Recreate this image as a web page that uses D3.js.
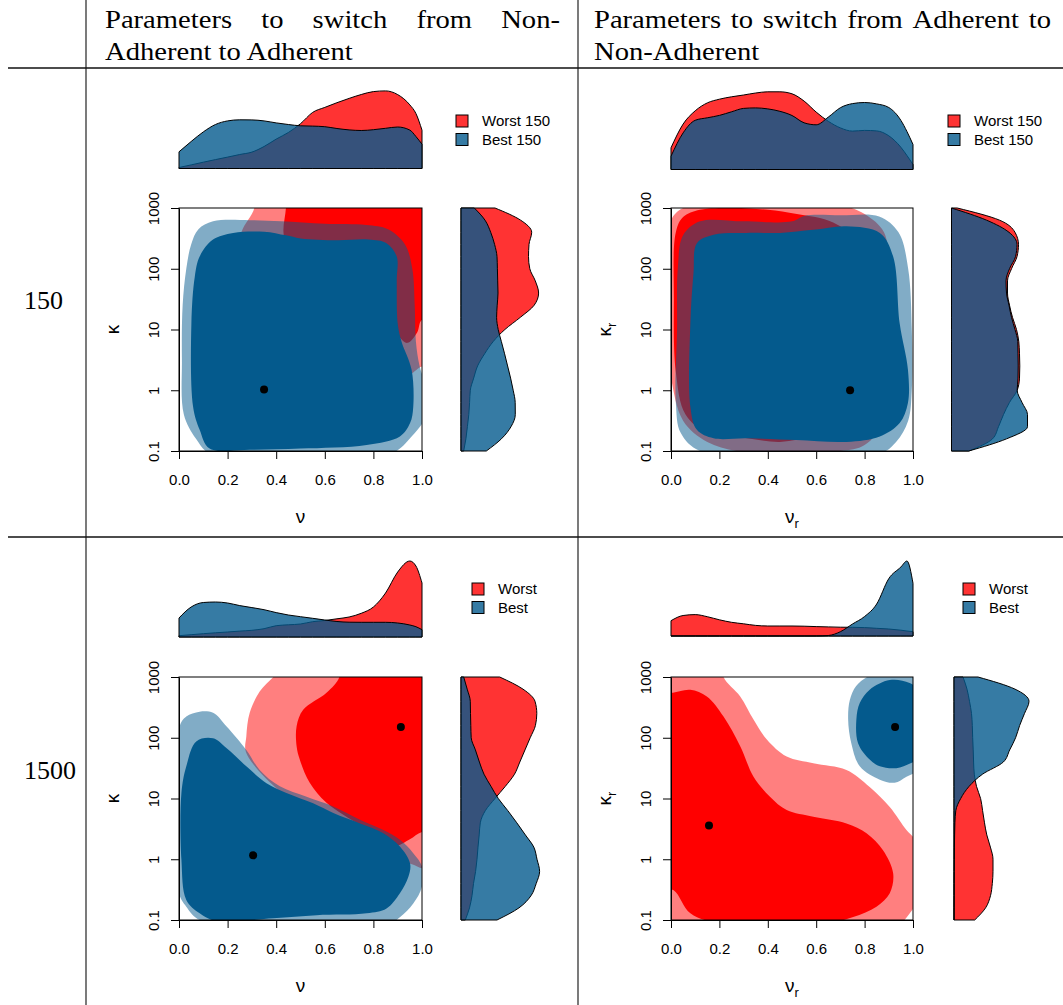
<!DOCTYPE html>
<html><head><meta charset="utf-8">
<script src="https://cdn.jsdelivr.net/npm/d3@7"></script>
<style>body{margin:0;background:#fff}svg{display:block}</style>
</head><body>
<svg id="c" width="1063" height="1005"></svg>
<script>
// ---------------- DATA ----------------
const nuTicks = [0, 0.2, 0.4, 0.6, 0.8, 1.0];
const kappaTicks = [0.1, 1, 10, 100, 1000];
const rowLabels = ["150", "1500"];
const legendTop = ["Worst 150", "Best 150"];
const legendBottom = ["Worst", "Best"];

// grid for top marginal densities (nu)
const nuGrid = [0,0.05,0.1,0.15,0.2,0.25,0.3,0.35,0.4,0.45,0.5,0.55,0.6,0.65,0.7,0.75,0.8,0.85,0.9,0.95,0.975,1];
// grid for right marginal densities (log10 kappa)
const logKGrid = [3,2.8,2.6,2.4,2.2,2.0,1.8,1.6,1.4,1.2,1.0,0.8,0.6,0.4,0.2,0,-0.2,-0.4,-0.6,-0.8,-1];

// marginal densities (relative units)
const tlTopWorst = [1,3.6,6.3,8.9,11.4,14,16.4,22,29.4,36,44.8,56.1,61.1,65.8,70.1,74,76.9,77.6,73.9,63.6,55,38.3];
const tlTopBest  = [16.7,27,36.6,44,47.6,48.7,48.6,47.6,45.6,44,42.7,42.4,41.8,40,38.6,38,38.8,40.2,41.5,38.4,32,24.3];
const tlRightWorst = [34,59.6,70.7,68,67.5,68.8,74.3,77.6,73.2,59.3,43.9,32.1,23.6,16.6,12.7,9.3,8.6,7.8,6.4,4.9,2.7];
const tlRightBest  = [13.3,24,29.7,33.6,36,36.4,36.7,37,36.2,35.6,37.2,40.4,43.6,46.6,49.6,52.2,54.2,54.3,50,40.4,25.3];

const trTopWorst = [21.7,45.4,58.7,66.6,70.3,72.7,74.5,76.5,77.7,77.7,75.7,68.4,57.4,48.2,41.6,38.4,39.1,38.6,33.7,22.2,14,5];
const trTopBest  = [13.3,36.6,49.2,51.7,54.1,57.7,61.1,61.6,60.6,58.2,54,46.7,44.7,52.4,61.8,65.9,67,65.6,62,49.1,38,25];
const trRightWorst = [5.7,48,63.5,67,65.5,60,56,56,58,61,65,67.3,68,68.3,68,65.7,58,52,47,41,17.3];
const trRightBest  = [0,35,57.5,65.5,64,58,54.5,55,57.5,60,63.5,66.3,66.5,66.7,66.5,65.7,70.5,76,76,55,17.3];

const blTopWorst = [1.3,2.3,3.3,4.2,5,5.9,6.7,8.3,11.3,12.2,13,15.3,16.5,18.2,20,23.7,30,44,65,76,71,54];
const blTopBest  = [19,30,34.5,35,34,31.4,29.4,27.3,24.4,22,20.3,18.7,17,15.5,14.8,14.7,14.7,14.7,14,12,10.3,7.3];
const blRightWorst = [38.7,62,74,75.8,74.4,69.2,64,58.8,53.5,44.3,34,24.3,19.3,18.2,17,16,14.6,12.5,11,8.5,4.3];
const blRightBest  = [2.7,6.2,9.3,9.5,9.8,10.2,14.4,18.4,23,30,37.3,46.8,55.8,64.4,72.8,76,78.6,75.2,70,58,36];

const brTopWorst = [15.3,20.5,21.4,19.3,16.2,13.7,12.2,10.6,10,10,10,9.8,9.4,9.1,8.8,8.7,8.4,7.7,7,5.8,5,4.3];
const brTopBest  = [0,0,0,0,0,0,0,0,0,0,0,0,0,0.5,4.3,12,19.5,32,57.4,69,75,52.7];
const brRightWorst = [9,13,15.5,17.5,18.3,18.7,19.2,19.6,20.3,22.5,26.6,28.6,30.5,32.8,36.4,39,39,38.3,36.5,31.6,20.7];
const brRightBest  = [24,61,75,70.5,65.6,61.6,55.7,49.3,28.5,15.1,6.7,1.8,0.9,0.6,0.4,0.3,0.2,0.1,0.1,0,0];

// 2-D density contours: [nu, log10(kappa)]
const tlWorstOuter = [[0.31,3.3],[0.31,3.0],[0.257,2.6],[0.25,2.2],[0.35,1.8],[0.6,1.2],[0.85,0.5],[0.94,0.25],[1.0,0.39],[1.1,0.4],[1.1,3.3]];
const tlWorstInner = [[0.44,3.3],[0.44,3.0],[0.43,2.6],[0.45,2.3],[0.6,2.0],[0.8,1.4],[0.9,0.9],[0.94,0.78],[0.98,0.95],[1.0,1.16],[1.1,1.2],[1.1,3.3]];
const tlBestOuter = [[0.14,2.78],[0.29,2.80],[0.42,2.78],[0.6,2.74],[0.77,2.72],[0.86,2.65],[0.93,2.4],[0.96,2.0],[0.97,1.4],[0.975,0.8],[0.99,0.4],[1.02,0.0],[1.02,-0.4],[0.96,-0.75],[0.87,-1.05],[0.5,-1.1],[0.13,-1.05],[0.07,-0.8],[0.02,-0.4],[0.012,0.5],[0.015,1.4],[0.03,2.0],[0.05,2.4],[0.08,2.65]];
const tlBestInner = [[0.223,2.59],[0.35,2.61],[0.44,2.55],[0.5,2.50],[0.65,2.47],[0.78,2.48],[0.854,2.42],[0.896,2.2],[0.896,1.8],[0.9,1.1],[0.916,0.8],[0.957,0.34],[0.964,-0.27],[0.951,-0.54],[0.909,-0.76],[0.772,-0.90],[0.5,-0.96],[0.291,-0.98],[0.126,-0.96],[0.085,-0.65],[0.058,-0.27],[0.051,1.1],[0.065,1.87],[0.085,2.2],[0.14,2.48]];
const tlDots = [[0.35,1.03]];

const trWorstOuter = [[-0.02,0.8],[-0.02,2.0],[0.0,2.8],[0.05,3.0],[0.2,3.1],[0.5,3.1],[0.7,3.05],[0.8,2.9],[0.88,2.6],[0.9,2.0],[0.9,0.5],[0.88,-0.5],[0.8,-0.9],[0.7,-1.0],[0.5,-1.05],[0.3,-1.02],[0.15,-0.85],[0.05,-0.5],[0.0,0.2]];
const trWorstInner = [[0.012,1.5],[0.02,2.6],[0.05,2.85],[0.12,2.97],[0.25,3.0],[0.4,2.97],[0.52,2.9],[0.67,2.76],[0.78,2.4],[0.82,1.5],[0.82,0.0],[0.75,-0.6],[0.6,-0.75],[0.45,-0.85],[0.3,-0.78],[0.15,-0.7],[0.06,-0.4],[0.02,0.3]];
const trBestOuter = [[0.12,2.78],[0.3,2.78],[0.5,2.78],[0.55,2.87],[0.7,2.88],[0.86,2.86],[0.94,2.6],[0.98,2.0],[0.995,1.0],[0.995,0.0],[0.98,-0.5],[0.93,-0.85],[0.86,-1.05],[0.5,-1.08],[0.12,-1.0],[0.04,-0.7],[0.02,-0.2],[0.025,1.0],[0.028,2.0],[0.05,2.55]];
const trBestInner = [[0.107,2.42],[0.176,2.56],[0.313,2.59],[0.451,2.59],[0.588,2.64],[0.725,2.70],[0.863,2.59],[0.918,2.20],[0.945,1.10],[0.979,0.34],[0.979,-0.21],[0.945,-0.54],[0.863,-0.76],[0.725,-0.85],[0.519,-0.82],[0.313,-0.79],[0.176,-0.79],[0.107,-0.65],[0.080,-0.27],[0.080,1.10],[0.093,1.93]];
const trDots = [[0.74,1.0]];

const blWorstOuter = [[0.45,3.3],[0.40,3.05],[0.332,2.76],[0.291,2.41],[0.277,2.02],[0.277,1.75],[0.45,1.0],[0.7,0.4],[0.9,0.0],[0.97,-0.1],[1.0,-0.15],[1.1,-0.1],[1.1,3.3]];
const blWorstInner = [[0.66,3.3],[0.66,3.0],[0.607,2.74],[0.511,2.46],[0.484,2.19],[0.484,1.86],[0.497,1.64],[0.538,1.26],[0.607,0.93],[0.75,0.55],[0.85,0.3],[0.89,0.22],[0.95,0.33],[1.0,0.45],[1.1,0.45],[1.1,3.3]];
const blBestOuter = [[0.003,2.19],[0.03,2.35],[0.085,2.43],[0.14,2.41],[0.195,2.19],[0.277,1.80],[0.332,1.47],[0.415,1.20],[0.525,1.03],[0.635,0.87],[0.745,0.65],[0.841,0.48],[0.909,0.32],[0.964,0.10],[1.0,-0.12],[1.0,-0.45],[0.964,-0.73],[0.91,-0.95],[0.85,-1.1],[0.3,-1.1],[0.085,-1.0],[0.03,-0.78],[0.0,-0.56],[-0.005,0.5]];
const blBestInner = [[0.071,1.94],[0.14,1.99],[0.195,1.83],[0.277,1.53],[0.36,1.25],[0.442,1.09],[0.552,0.92],[0.635,0.76],[0.745,0.59],[0.841,0.43],[0.909,0.21],[0.951,-0.07],[0.944,-0.29],[0.909,-0.56],[0.854,-0.81],[0.772,-0.89],[0.566,-0.92],[0.387,-0.97],[0.154,-1.02],[0.085,-0.89],[0.03,-0.67],[0.01,-0.01],[0.01,1.09],[0.03,1.53]];
const blDots = [[0.305,1.16],[0.913,150]];

const brWorstOuter = [[-0.1,3.3],[0.21,3.3],[0.217,3.0],[0.286,2.68],[0.341,2.30],[0.396,1.97],[0.478,1.69],[0.588,1.58],[0.725,1.47],[0.821,1.19],[0.904,0.86],[0.973,0.48],[1.0,0.37],[1.04,0.2],[1.04,-0.6],[1.0,-0.82],[0.96,-1.02],[0.9,-1.2],[-0.1,-1.2]];
const brWorstInner = [[-0.05,2.76],[0.0,2.74],[0.08,2.79],[0.148,2.68],[0.217,2.35],[0.286,1.86],[0.341,1.36],[0.409,1.03],[0.478,0.81],[0.588,0.70],[0.725,0.59],[0.808,0.43],[0.876,0.15],[0.918,-0.23],[0.904,-0.56],[0.849,-0.78],[0.753,-0.95],[0.65,-1.05],[0.2,-1.05],[0.08,-0.89],[0.011,-0.51],[-0.05,-0.45]];
const brBestOuter = [[0.732,2.30],[0.739,2.62],[0.765,2.85],[0.81,3.0],[0.87,3.1],[0.95,3.1],[1.03,3.0],[1.06,2.2],[1.03,1.5],[0.973,1.36],[0.924,1.26],[0.863,1.31],[0.78,1.53],[0.745,1.91]];
const brBestInner = [[0.766,2.30],[0.78,2.57],[0.821,2.79],[0.904,2.95],[0.986,2.90],[1.04,2.7],[1.04,1.7],[0.99,1.58],[0.931,1.50],[0.863,1.53],[0.821,1.64],[0.773,1.91]];
const brDots = [[0.157,3.6],[0.926,151]];

// ---------------- STYLE ----------------
const SANS = "'Liberation Sans', Arial, Helvetica, sans-serif";
const SERIF = "'Liberation Serif', 'Times New Roman', serif";
const C = {
  redOuter: "rgba(255,0,0,0.5)", redInner: "#ff0000",
  blueOuter: "rgba(4,90,141,0.5)", blueInner: "#045a8d",
  redMarg: "rgba(255,0,0,0.8)", blueMarg: "rgba(4,90,141,0.8)"
};

const svg = d3.select("#c");

// ---------------- TABLE ----------------
const rule = svg.append("g");
rule.append("line").attr("x1",86).attr("x2",86).attr("y1",0).attr("y2",1005).attr("stroke","#333").attr("stroke-width",1.3);
rule.append("line").attr("x1",578).attr("x2",578).attr("y1",0).attr("y2",1005).attr("stroke","#333").attr("stroke-width",1.3);
rule.append("line").attr("x1",8).attr("x2",1063).attr("y1",68).attr("y2",68).attr("stroke","#111").attr("stroke-width",1.5);
rule.append("line").attr("x1",8).attr("x2",1063).attr("y1",537).attr("y2",537).attr("stroke","#111").attr("stroke-width",1.5);

const HFS = 26, STRETCH = 1.1;
function justifyLine(words, x0, x1, y) {
  const g = svg.append("g").style("font-family", SERIF).style("font-size", HFS + "px").attr("fill","#000");
  const nodes = words.map(w => g.append("text").attr("y", y).text(w));
  const widths = nodes.map(n => n.node().getComputedTextLength() * STRETCH);
  const gap = (x1 - x0 - d3.sum(widths)) / (words.length - 1);
  let x = x0;
  nodes.forEach((n, i) => { n.attr("x", x).attr("textLength", widths[i]).attr("lengthAdjust","spacingAndGlyphs"); x += widths[i] + gap; });
}
function plainLine(txt, x0, y) {
  const t = svg.append("text").attr("x", x0).attr("y", y).style("font-family", SERIF).style("font-size", HFS + "px").text(txt);
  const w = t.node().getComputedTextLength();
  t.attr("textLength", w * STRETCH).attr("lengthAdjust","spacingAndGlyphs");
}
justifyLine(["Parameters","to","switch","from","Non-"], 105, 560, 28);
plainLine("Adherent to Adherent", 105, 60);
justifyLine(["Parameters","to","switch","from","Adherent","to"], 594, 1051, 28);
plainLine("Non-Adherent", 594, 60);
svg.append("text").attr("x",24).attr("y",309).style("font-family",SERIF).style("font-size","26px").text(rowLabels[0]);
svg.append("text").attr("x",24).attr("y",779).style("font-family",SERIF).style("font-size","26px").text(rowLabels[1]);

// ---------------- PANELS ----------------
const margScale = d3.scaleLinear().domain([0, 80]).range([0, 80]);
let clipN = 0;

function drawPanel(p) {
  const x = d3.scaleLinear().domain([0, 1]).range([p.x0, p.x1]);
  const y = d3.scaleLog().domain([0.1, 1000]).range([p.y1, p.y0]);
  const g = svg.append("g");
  const cid = "clip" + (clipN++);
  g.append("clipPath").attr("id", cid).append("rect")
    .attr("x", p.x0).attr("y", p.y0).attr("width", p.x1 - p.x0).attr("height", p.y1 - p.y0);

  const contour = d3.line().x(d => x(d[0])).y(d => y(Math.pow(10, d[1]))).curve(d3.curveCatmullRomClosed.alpha(0.5));
  const cg = g.append("g").attr("clip-path", `url(#${cid})`);
  cg.append("path").attr("d", contour(p.worstOuter)).attr("fill", C.redOuter);
  cg.append("path").attr("d", contour(p.worstInner)).attr("fill", C.redInner);
  cg.append("path").attr("d", contour(p.bestOuter)).attr("fill", C.blueOuter);
  cg.append("path").attr("d", contour(p.bestInner)).attr("fill", C.blueInner);
  cg.selectAll("circle.dot").data(p.dots).join("circle").attr("class","dot")
    .attr("cx", d => x(d[0])).attr("cy", d => y(d[1])).attr("r", 4).attr("fill", "#000");

  g.append("rect").attr("x", p.x0).attr("y", p.y0).attr("width", p.x1 - p.x0).attr("height", p.y1 - p.y0)
    .attr("fill", "none").attr("stroke", "#000").attr("stroke-width", 1);

  // axes
  const ax = g.append("g").attr("transform", `translate(0,${p.y1})`)
    .call(d3.axisBottom(x).tickValues(nuTicks).tickFormat(d3.format(".1f")).tickSize(8).tickSizeOuter(0).tickPadding(15));
  const ay = g.append("g").attr("transform", `translate(${p.x0},0)`)
    .call(d3.axisLeft(y).tickValues(kappaTicks).tickFormat(d => d < 1 ? "0.1" : String(d)).tickSize(8).tickSizeOuter(0));
  [ax, ay].forEach(a => {
    a.select(".domain").attr("stroke", "#000");
    a.selectAll(".tick line").attr("stroke", "#000");
    a.selectAll("text").attr("fill", "#000").style("font-family", SANS).style("font-size", "15px");
  });
  ay.selectAll(".tick text").attr("transform", "rotate(-90)").attr("x", 0).attr("y", -20.5).attr("dy", 0).attr("text-anchor", "middle");

  const xt = g.append("text").attr("x", (p.x0 + p.x1) / 2).attr("y", p.y1 + 72).attr("text-anchor", "middle")
    .style("font-family", SANS).style("font-size", "19px").text("ν");
  const yt = g.append("text").attr("transform", `translate(${p.x0 - 60},${(p.y0 + p.y1) / 2}) rotate(-90)`).attr("text-anchor", "middle")
    .style("font-family", SANS).style("font-size", "19px").text("κ");
  if (p.sub) {
    xt.append("tspan").attr("dy", 5).style("font-size", "13px").text("r");
    yt.append("tspan").attr("dy", 5).style("font-size", "13px").text("r");
  }

  // top marginal
  const top = d3.area().x((d, i) => x(nuGrid[i])).y0(p.topBase).y1(d => p.topBase - margScale(d)).curve(d3.curveMonotoneX);
  g.append("path").attr("d", top(p.topWorst)).attr("fill", C.redMarg).attr("stroke", "#000").attr("stroke-width", 1);
  g.append("path").attr("d", top(p.topBest)).attr("fill", C.blueMarg).attr("stroke", "#000").attr("stroke-width", 1);
  // right marginal
  const right = d3.area().y((d, i) => y(Math.pow(10, logKGrid[i]))).x0(p.rightBase).x1(d => p.rightBase + margScale(d)).curve(d3.curveMonotoneY);
  g.append("path").attr("d", right(p.rightWorst)).attr("fill", C.redMarg).attr("stroke", "#000").attr("stroke-width", 1);
  g.append("path").attr("d", right(p.rightBest)).attr("fill", C.blueMarg).attr("stroke", "#000").attr("stroke-width", 1);

  // legend
  const lg = g.append("g");
  [C.redMarg, C.blueMarg].forEach((col, i) => {
    const cy = p.legY + i * 18.5;
    lg.append("rect").attr("x", p.legX).attr("y", cy - 6).attr("width", 12).attr("height", 12)
      .attr("fill", col).attr("stroke", "#000").attr("stroke-width", 1);
    lg.append("text").attr("x", p.legX + 26).attr("y", cy).attr("dy", "0.36em")
      .style("font-family", SANS).style("font-size", "15px").attr("fill", "#000").text(p.legend[i]);
  });
}

drawPanel({x0:179, x1:422, y0:208, y1:451, topBase:168.5, rightBase:461, legX:456, legY:121, legend:legendTop, sub:false,
  worstOuter:tlWorstOuter, worstInner:tlWorstInner, bestOuter:tlBestOuter, bestInner:tlBestInner, dots:tlDots,
  topWorst:tlTopWorst, topBest:tlTopBest, rightWorst:tlRightWorst, rightBest:tlRightBest});
drawPanel({x0:671, x1:913, y0:208, y1:451, topBase:169.5, rightBase:951.5, legX:948, legY:121, legend:legendTop, sub:true,
  worstOuter:trWorstOuter, worstInner:trWorstInner, bestOuter:trBestOuter, bestInner:trBestInner, dots:trDots,
  topWorst:trTopWorst, topBest:trTopBest, rightWorst:trRightWorst, rightBest:trRightBest});
drawPanel({x0:179, x1:422, y0:677, y1:920, topBase:637, rightBase:461, legX:472, legY:589, legend:legendBottom, sub:false,
  worstOuter:blWorstOuter, worstInner:blWorstInner, bestOuter:blBestOuter, bestInner:blBestInner, dots:blDots,
  topWorst:blTopWorst, topBest:blTopBest, rightWorst:blRightWorst, rightBest:blRightBest});
drawPanel({x0:671, x1:913, y0:677, y1:920, topBase:636, rightBase:954, legX:963, legY:589, legend:legendBottom, sub:true,
  worstOuter:brWorstOuter, worstInner:brWorstInner, bestOuter:brBestOuter, bestInner:brBestInner, dots:brDots,
  topWorst:brTopWorst, topBest:brTopBest, rightWorst:brRightWorst, rightBest:brRightBest});
</script>
</body></html>
